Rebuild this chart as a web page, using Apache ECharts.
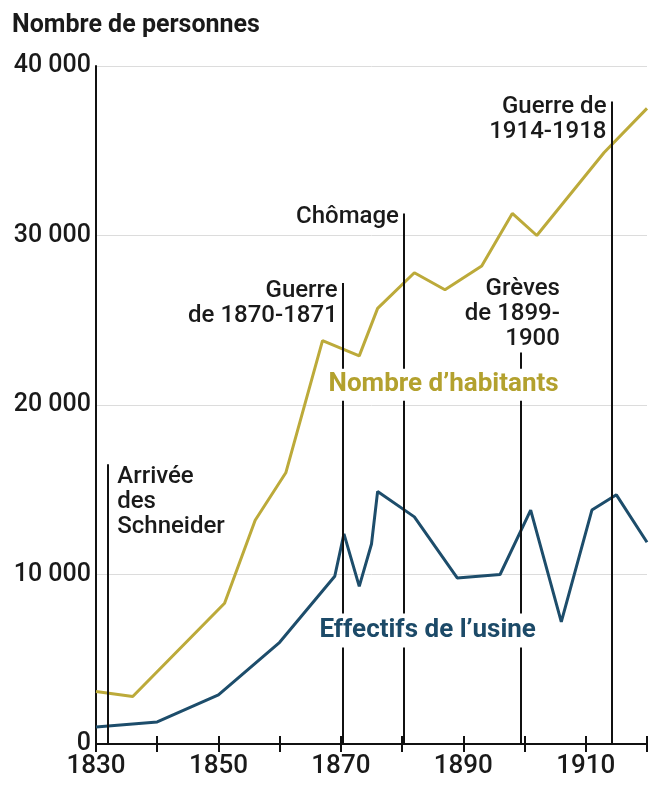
<!DOCTYPE html>
<html>
<head>
<meta charset="utf-8">
<script src="https://cdn.jsdelivr.net/npm/echarts@6/dist/echarts.min.js"></script>
<style>
  html, body {margin: 0; padding: 0; background: #fff;}
  #chart {width: 654px; height: 788px;}
</style>
</head>
<body>
<div id="chart"></div>
<script>
// Nombre d'habitants (années / valeurs)
const habYears = [1830, 1836, 1851, 1856, 1861, 1867, 1873, 1876, 1882, 1887, 1893, 1898, 1902, 1913, 1920];
const habValues = [3100, 2800, 8300, 13200, 16000, 23800, 22900, 25700, 27800, 26800, 28200, 31300, 30000, 34900, 37500];

// Effectifs de l'usine
const usineYears = [1830, 1840, 1850, 1860, 1869, 1870.5, 1873, 1875, 1876, 1882, 1889, 1896, 1901, 1906, 1911, 1915, 1920];
const usineValues = [1000, 1300, 2900, 6000, 9900, 12400, 9300, 11800, 14900, 13400, 9800, 10000, 13800, 7200, 13800, 14700, 11900];

// événements (traits verticaux)
const eventYears = [1832, 1870.3, 1880.3, 1899.4, 1914.2];
const eventTops = [16500, 27200, 31300, 23100, 37900];
const eventNames = ['Arrivée\ndes\nSchneider', 'Guerre\nde 1870-1871', 'Chômage', 'Grèves\nde 1899-\n1900', 'Guerre de\n1914-1918'];

const seriesNames = ['Nombre d’habitants', 'Effectifs de l’usine'];
const yTicks = [0, 10000, 20000, 30000, 40000];

const font = 'Roboto, "DejaVu Sans", sans-serif';
const yellow = '#bcaa3a';
const blue = '#1d4d6b';
const ink = '#1a1a1a';

// placement des étiquettes d'événements (décalages en px)
const eventLabelLayout = [
  {align: 'left', pos: [9, 0]},
  {align: 'right', pos: [-5, -4]},
  {align: 'right', pos: [-5, -9]},
  {align: 'right', pos: [39, -76]},
  {align: 'right', pos: [-5, -7]}
];

const chart = echarts.init(document.getElementById('chart'));

const option = {
  backgroundColor: '#fff',
  animation: false,
  title: {
    text: 'Nombre de personnes',
    left: 7,
    top: 8,
    textStyle: {fontFamily: font, fontSize: 25, fontWeight: 'bold', color: ink}
  },
  grid: {left: 96, right: 7, top: 66, bottom: 44, containLabel: false},
  xAxis: [
    {
      type: 'value',
      min: 1830,
      max: 1920,
      interval: 10,
      axisLine: {show: true, onZero: false, lineStyle: {color: '#111', width: 2}},
      axisTick: {show: true, length: 8, lineStyle: {color: '#111', width: 2}},
      axisLabel: {
        margin: 9,
        fontFamily: font,
        fontSize: 26,
        fontWeight: 500,
        color: ink,
        formatter: function (v) {
          return (v - 1830) % 20 === 0 && v < 1920 ? String(v) : '';
        }
      },
      splitLine: {show: false}
    },
    {
      type: 'value',
      min: 1830,
      max: 1920,
      interval: 10,
      position: 'bottom',
      axisLine: {show: false},
      axisTick: {show: true, inside: true, length: 8, lineStyle: {color: '#111', width: 2}},
      axisLabel: {show: false},
      splitLine: {show: false}
    }
  ],
  yAxis: {
    type: 'value',
    min: yTicks[0],
    max: yTicks[yTicks.length - 1],
    interval: 10000,
    axisLine: {show: true, lineStyle: {color: '#111', width: 2}},
    axisTick: {show: false},
    axisLabel: {
      margin: 5,
      fontFamily: font,
      fontSize: 25,
      fontWeight: 500,
      color: ink,
      formatter: function (v) {
        return v === 0 ? '0' : (v / 1000) + ' 000';
      }
    },
    splitLine: {lineStyle: {color: '#dcdcdc', width: 1}}
  },
  series: [
    {
      // traits verticaux des événements
      name: 'evenements',
      type: 'line',
      data: [],
      z: 1,
      markLine: {
        silent: true,
        symbol: ['none', 'none'],
        label: {show: false},
        lineStyle: {color: '#111', width: 2, type: 'solid'},
        data: eventYears.map((y, i) => [{coord: [y, 0]}, {coord: [y, eventTops[i]]}])
      }
    },
    {
      name: seriesNames[0],
      type: 'line',
      z: 3,
      symbol: 'none',
      lineStyle: {color: yellow, width: 3},
      data: habYears.map((y, i) => [y, habValues[i]])
    },
    {
      name: seriesNames[1],
      type: 'line',
      z: 3,
      symbol: 'none',
      lineStyle: {color: blue, width: 3},
      data: usineYears.map((y, i) => [y, usineValues[i]])
    },
    {
      // libellés des événements
      type: 'scatter',
      z: 5,
      symbolSize: 0,
      silent: true,
      itemStyle: {opacity: 1},
      data: eventYears.map((y, i) => ({
        value: [y, eventTops[i]],
        label: {
          show: true,
          formatter: eventNames[i],
          position: eventLabelLayout[i].pos,
          align: eventLabelLayout[i].align,
          verticalAlign: 'top',
          fontFamily: font,
          fontSize: 24,
          fontWeight: 500,
          lineHeight: 25,
          opacity: 1,
          color: ink
        }
      }))
    },
    {
      // noms des courbes (fond blanc qui coupe les traits)
      type: 'scatter',
      z: 6,
      symbolSize: 0,
      silent: true,
      itemStyle: {opacity: 1},
      data: [
        {
          value: [1867.5, 21200],
          label: {show: true, formatter: seriesNames[0], color: '#b3a12e', backgroundColor: '#fff', padding: [3, 3]}
        },
        {
          value: [1866, 6700],
          label: {show: true, formatter: seriesNames[1], color: '#1c4a68', backgroundColor: '#fff', padding: [4, 3]}
        }
      ],
      label: {
        position: [0, 0],
        align: 'left',
        verticalAlign: 'middle',
        fontFamily: font,
        fontSize: 26,
        fontWeight: 'bold',
        lineHeight: 26,
        opacity: 1
      }
    }
  ]
};

chart.setOption(option);
</script>
</body>
</html>
